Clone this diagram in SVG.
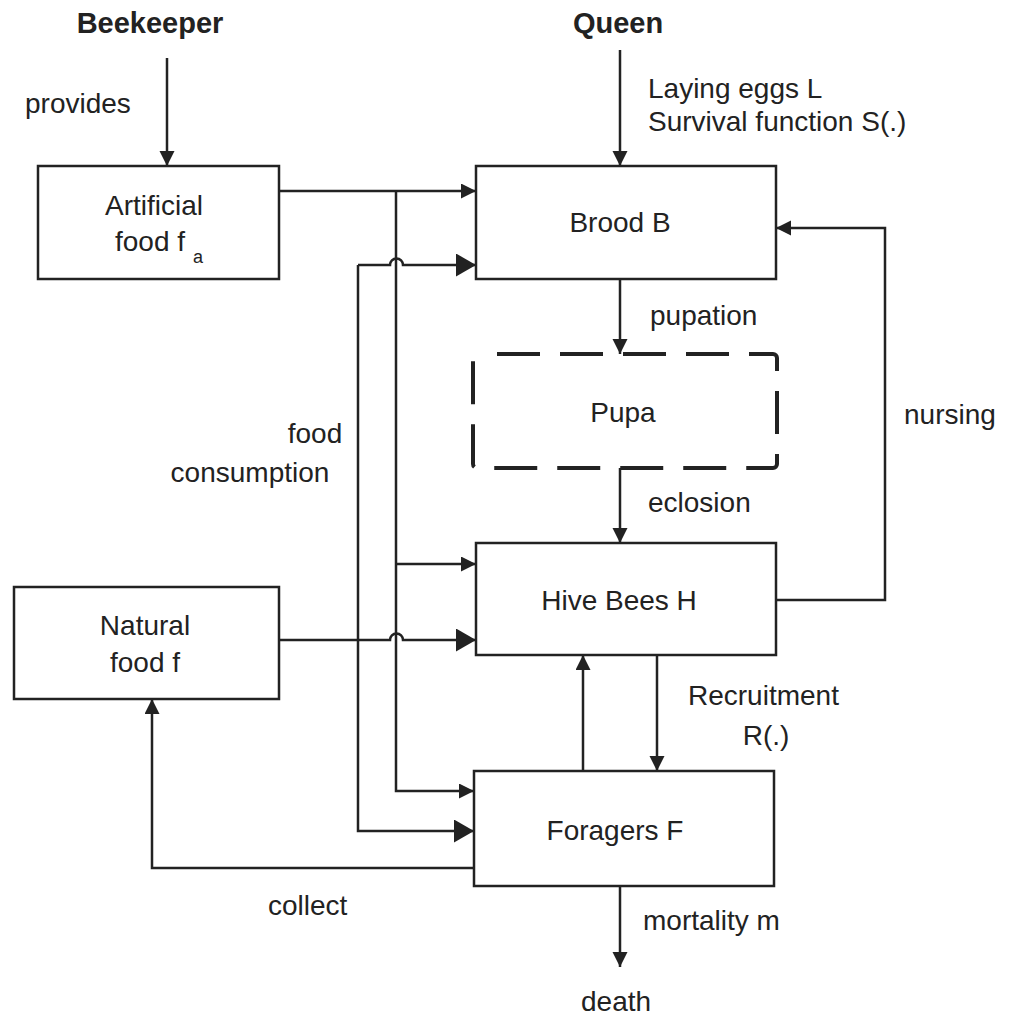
<svg xmlns="http://www.w3.org/2000/svg" width="1016" height="1016" viewBox="0 0 1016 1016">
<style>
.box{fill:#fff;stroke:#222;stroke-width:2.5}
.dash{fill:none;stroke:#222;stroke-width:4;stroke-dasharray:43 20;stroke-dashoffset:43}
.c{fill:none;stroke:#222;stroke-width:2.5}
.s{marker-end:url(#ah)}
.l{marker-end:url(#ahL)}
text{font-family:"Liberation Sans",Arial,sans-serif;font-size:28px;fill:#222}
.b{font-weight:bold;font-size:29px}
.m{text-anchor:middle}
</style>
<defs>
<marker id="ah" markerUnits="userSpaceOnUse" markerWidth="16" markerHeight="16" refX="15" refY="7.5" orient="auto">
<path d="M0,0 L15,7.5 L0,15 z" fill="#222"/>
</marker>
<marker id="ahL" markerUnits="userSpaceOnUse" markerWidth="22" markerHeight="24" refX="20" refY="11.5" orient="auto">
<path d="M0,0 L20,11.5 L0,23 z" fill="#222"/>
</marker>
</defs>
<rect width="1016" height="1016" fill="#fff"/>
<g id="connectors">
<path class="c s" d="M167,58 V166"/>
<path class="c s" d="M620,50 V166"/>
<path class="c s" d="M279,191 H476"/>
<path class="c s" d="M396,191 V791 H474"/>
<path class="c s" d="M396,564 H476"/>
<path class="c l" d="M279,640 H390 a6.5,6.5 0 0 1 13,0 H476"/>
<path class="c l" d="M358,265 H390 a6.5,6.5 0 0 1 13,0 H476"/>
<path class="c l" d="M358,265 V831 H474"/>
<path class="c s" d="M620,279 V354"/>
<path class="c s" d="M620,468 V543"/>
<path class="c s" d="M776,600 H885 V228 H776"/>
<path class="c s" d="M657,655 V771"/>
<path class="c s" d="M583,771 V655"/>
<path class="c s" d="M474,868 H152 V699"/>
<path class="c s" d="M620,886 V967"/>
</g>
<g id="beekeeper"><text class="b m" x="150" y="33">Beekeeper</text></g>
<g id="queen"><text class="b m" x="618" y="33">Queen</text></g>
<g id="artificial-food">
<rect class="box" x="38" y="166" width="241" height="113"/>
<text class="m" x="154" y="215">Artificial</text>
<text class="m" x="150" y="251">food f</text>
<text x="193" y="263" style="font-size:18px">a</text>
</g>
<g id="brood">
<rect class="box" x="476" y="166" width="300" height="113"/>
<text class="m" x="620" y="232">Brood B</text>
</g>
<g id="pupa">
<rect class="dash" x="473" y="354" width="304" height="114" rx="4"/>
<text class="m" x="623" y="422">Pupa</text>
</g>
<g id="hive-bees">
<rect class="box" x="476" y="543" width="300" height="112"/>
<text class="m" x="619" y="610">Hive Bees H</text>
</g>
<g id="natural-food">
<rect class="box" x="14" y="587" width="265" height="112"/>
<text class="m" x="145" y="635">Natural</text>
<text class="m" x="145" y="672">food f</text>
</g>
<g id="foragers">
<rect class="box" x="474" y="771" width="300" height="115"/>
<text class="m" x="615" y="840">Foragers F</text>
</g>
<g id="labels">
<text x="25" y="113">provides</text>
<text x="648" y="98">Laying eggs L</text>
<text x="648" y="131">Survival function S(.)</text>
<text x="650" y="325">pupation</text>
<text x="648" y="512">eclosion</text>
<text x="904" y="424">nursing</text>
<text class="m" x="315" y="443">food</text>
<text class="m" x="250" y="482">consumption</text>
<text x="688" y="705">Recruitment</text>
<text class="m" x="766" y="745">R(.)</text>
<text x="268" y="915">collect</text>
<text x="643" y="930">mortality m</text>
<text x="581" y="1011">death</text>
</g>
</svg>
